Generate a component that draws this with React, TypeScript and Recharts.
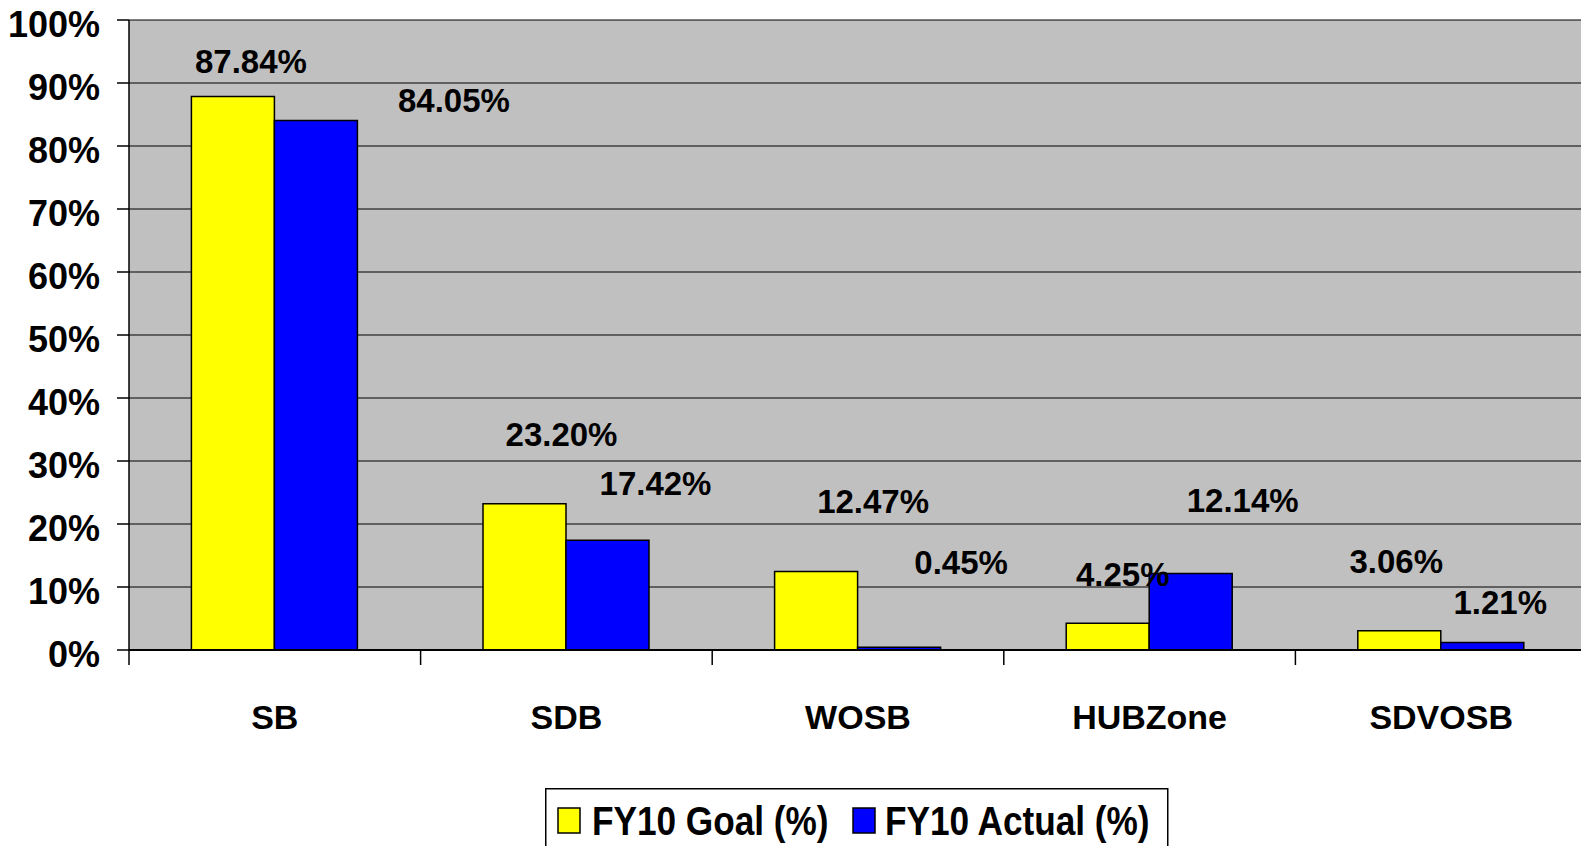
import React from 'react';
import { BarChart, Bar, XAxis, YAxis, CartesianGrid, LabelList, Legend } from 'recharts';

const categories = ['SB', 'SDB', 'WOSB', 'HUBZone', 'SDVOSB'];
const goalValues = [87.84, 23.2, 12.47, 4.25, 3.06];
const actualValues = [84.05, 17.42, 0.45, 12.14, 1.21];
const yTicks = [0, 10, 20, 30, 40, 50, 60, 70, 80, 90, 100];
const seriesNames = ['FY10 Goal (%)', 'FY10 Actual (%)'];
const seriesColors = ['#FFFF00', '#0000FF'];

// layout: label offsets (dx, dy) from bar top-centre, as moved in the original
const GOAL_LABEL_OFFSETS = [[18, -36], [37, -70], [57, -70], [15, -49], [-3, -70]];
const ACTUAL_LABEL_OFFSETS = [[138, -20], [48, -57], [62, -85], [52, -74], [18, -40]];

const FONT = '"Liberation Sans", Arial, sans-serif';
const X_TICK_SIZE = 12;

const chartData = categories.map((name, i) => ({
  name,
  goal: goalValues[i],
  actual: actualValues[i],
}));

const makeLabel = (offsets: number[][]) => (props: any) => {
  const { x, y, width, index, value } = props;
  const [dx, dy] = offsets[index] || [0, 0];
  return (
    <text
      x={Number(x) + Number(width) / 2 + dx}
      y={Number(y) + dy + 12}
      textAnchor="middle"
      fontSize={33}
      fontWeight="bold"
      fontFamily={FONT}
      fill="#000"
    >
      {`${Number(value).toFixed(2)}%`}
    </text>
  );
};

const YTick = (props: any) => {
  const { x, y, payload } = props;
  return (
    <text x={x} y={y + 16.5} textAnchor="end" fontSize={36} fontWeight="bold" fontFamily={FONT} fill="#000">
      {`${payload.value}%`}
    </text>
  );
};

// category label plus Excel-style tick marks between categories
const XTick = (props: any) => {
  const { x, y, payload, index, width, visibleTicksCount } = props;
  const band = Number(width) / Number(visibleTicksCount || categories.length);
  const axisY = y - X_TICK_SIZE;
  const isLast = index === (visibleTicksCount || categories.length) - 1;
  return (
    <g>
      <line x1={x - band / 2} x2={x - band / 2} y1={axisY} y2={axisY + 15} stroke="#000" strokeWidth={1.5} />
      {isLast && (
        <line x1={x + band / 2} x2={x + band / 2} y1={axisY} y2={axisY + 15} stroke="#000" strokeWidth={1.5} />
      )}
      <text x={x} y={y + 67} textAnchor="middle" fontSize={34} fontWeight="bold" fontFamily={FONT} fill="#000">
        {payload.value}
      </text>
    </g>
  );
};

const LegendContent = () => (
  <svg width={624} height={62} style={{ display: 'block' }}>
    <rect x={0.75} y={0.75} width={622} height={70} fill="#fff" stroke="#000" strokeWidth={1.5} />
    <rect x={13} y={20} width={22} height={25} fill={seriesColors[0]} stroke="#000" strokeWidth={1.5} />
    <text
      transform="translate(47,47) scale(0.88,1)"
      fontSize={40}
      fontWeight="bold"
      fontFamily={FONT}
      fill="#000"
    >
      {seriesNames[0]}
    </text>
    <rect x={308} y={20} width={22} height={25} fill={seriesColors[1]} stroke="#000" strokeWidth={1.5} />
    <text
      transform="translate(340,47) scale(0.88,1)"
      fontSize={40}
      fontWeight="bold"
      fontFamily={FONT}
      fill="#000"
    >
      {seriesNames[1]}
    </text>
  </svg>
);

export default function App() {
  return (
    <div
      style={{
        position: 'fixed',
        left: 0,
        top: 0,
        width: 1581,
        height: 846,
        overflow: 'hidden',
        background: '#fff',
      }}
    >
      <BarChart
        width={1600}
        height={846}
        data={chartData}
        margin={{ top: 20, right: 13, left: 0, bottom: 96 }}
        barCategoryGap="21.4%"
        barGap={0}
      >
        <CartesianGrid
          vertical={false}
          stroke="#000"
          strokeWidth={1.2}
          fill="#C0C0C0"
          fillOpacity={1}
        />
        <XAxis
          dataKey="name"
          height={100}
          tickLine={false}
          tickSize={X_TICK_SIZE}
          tickMargin={0}
          axisLine={{ stroke: '#000', strokeWidth: 2 }}
          tick={<XTick />}
          interval={0}
        />
        <YAxis
          width={129}
          domain={[0, 100]}
          ticks={yTicks}
          interval={0}
          tickSize={12}
          tickMargin={17}
          tickLine={{ stroke: '#000', strokeWidth: 1.5 }}
          axisLine={{ stroke: '#000', strokeWidth: 1.5 }}
          tick={<YTick />}
        />
        <Legend
          layout="horizontal"
          verticalAlign="middle"
          align="center"
          content={<LegendContent />}
          wrapperStyle={{ position: 'absolute', left: 545, top: 788, width: 624, height: 62 }}
        />
        <Bar
          dataKey="goal"
          name={seriesNames[0]}
          fill={seriesColors[0]}
          stroke="#000"
          strokeWidth={1.5}
          isAnimationActive={false}
        >
          <LabelList dataKey="goal" content={makeLabel(GOAL_LABEL_OFFSETS)} />
        </Bar>
        <Bar
          dataKey="actual"
          name={seriesNames[1]}
          fill={seriesColors[1]}
          stroke="#000"
          strokeWidth={1.5}
          isAnimationActive={false}
        >
          <LabelList dataKey="actual" content={makeLabel(ACTUAL_LABEL_OFFSETS)} />
        </Bar>
      </BarChart>
    </div>
  );
}
